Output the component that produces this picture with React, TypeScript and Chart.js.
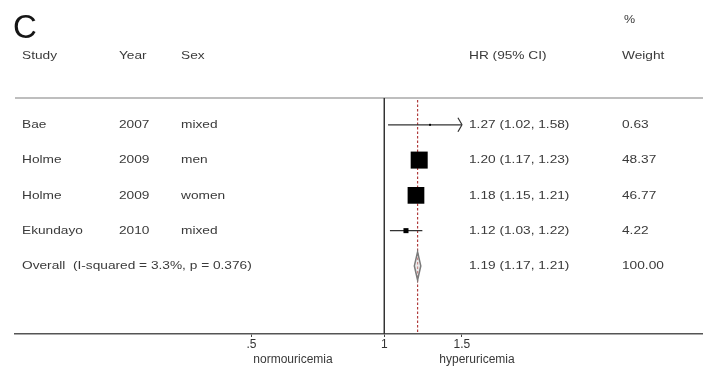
import React, { useEffect, useRef } from 'react';
import { Chart, registerables } from 'chart.js';

Chart.register(...registerables);

// ---- data ----
const studies = ['Bae', 'Holme', 'Holme', 'Ekundayo'];
const years = ['2007', '2009', '2009', '2010'];
const sexes = ['mixed', 'men', 'women', 'mixed'];
const hr = [1.27, 1.2, 1.18, 1.12];
const ciLow = [1.02, 1.17, 1.15, 1.03];
const ciHigh = [1.58, 1.23, 1.21, 1.22];
const weights = [0.63, 48.37, 46.77, 4.22];

const overallLabel = 'Overall  (I-squared = 3.3%, p = 0.376)';
const overallHR = 1.19;
const overallLow = 1.17;
const overallHigh = 1.21;
const overallWeight = 100.0;

const xTicks = [0.5, 1, 1.5];
const xTickLabels = ['.5', '1', '1.5'];
const ciDisplayMax = 1.5;

const headerLabels = ['Study', 'Year', 'Sex', 'HR (95% CI)', 'Weight'];
const weightUnit = '%';
const favourLabels = ['normouricemia', 'hyperuricemia'];
const panelLetter = 'C';

// ---- helpers ----
const rows = studies.map((_, i) => i + 1);
const overallRow = studies.length + 1;
const fmtCI = (e: number, l: number, h: number) =>
  `${e.toFixed(2)} (${l.toFixed(2)}, ${h.toFixed(2)})`;

const FONT = '"Liberation Sans", Arial, Helvetica, sans-serif';
const TEXT = '#3a3a3a';

function drawText(
  ctx: CanvasRenderingContext2D,
  s: string,
  x: number,
  y: number,
  size = 11.5,
  sx = 1.19,
  align: CanvasTextAlign = 'left',
  color = TEXT
) {
  ctx.save();
  ctx.translate(x, y);
  ctx.scale(sx, 1);
  ctx.textAlign = align;
  ctx.textBaseline = 'middle';
  ctx.fillStyle = color;
  ctx.font = `${size}px ${FONT}`;
  ctx.fillText(s, 0, 0);
  ctx.restore();
}

// column x positions (layout)
const COL_STUDY = 22;
const COL_YEAR = 119;
const COL_SEX = 181;
const COL_HR = 469;
const COL_W = 622;

const forestPlugin = {
  id: 'forest',
  beforeDatasetsDraw(chart: any) {
    const { ctx, chartArea, scales } = chart;
    const x = scales.x;
    const y = scales.y;
    ctx.save();
    // top rule
    ctx.strokeStyle = '#a8a8a8';
    ctx.lineWidth = 1.5;
    ctx.beginPath();
    ctx.moveTo(chartArea.left, chartArea.top);
    ctx.lineTo(chartArea.right, chartArea.top);
    ctx.stroke();
    // null effect line
    const x1 = x.getPixelForValue(1);
    ctx.strokeStyle = '#333';
    ctx.lineWidth = 1.5;
    ctx.beginPath();
    ctx.moveTo(x1, chartArea.top);
    ctx.lineTo(x1, chartArea.bottom);
    ctx.stroke();
    // overall dashed line
    const xo = x.getPixelForValue(overallHR);
    ctx.setLineDash([2.5, 2]);
    ctx.strokeStyle = '#b03c3c';
    ctx.lineWidth = 1.2;
    ctx.beginPath();
    ctx.moveTo(xo, chartArea.top + 2);
    ctx.lineTo(xo, chartArea.bottom);
    ctx.stroke();
    ctx.setLineDash([]);
    // overall diamond
    const yc = y.getPixelForValue(overallRow);
    const yt = y.getPixelForValue(overallRow - 0.4);
    const yb = y.getPixelForValue(overallRow + 0.4);
    const xl = x.getPixelForValue(overallLow);
    const xh = x.getPixelForValue(overallHigh);
    ctx.beginPath();
    ctx.moveTo(xl, yc);
    ctx.lineTo(xo, yt);
    ctx.lineTo(xh, yc);
    ctx.lineTo(xo, yb);
    ctx.closePath();
    ctx.fillStyle = 'rgba(215,215,215,0.5)';
    ctx.fill();
    ctx.strokeStyle = '#7a7a7a';
    ctx.lineWidth = 1.5;
    ctx.stroke();
    ctx.restore();
  },
  afterDatasetsDraw(chart: any) {
    const { ctx, scales } = chart;
    const x = scales.x;
    const y = scales.y;
    ctx.save();
    ctx.strokeStyle = '#333';
    ctx.lineWidth = 1.2;
    rows.forEach((r, i) => {
      if (ciHigh[i] > ciDisplayMax) {
        const tip = x.getPixelForValue(ciDisplayMax);
        const yr = y.getPixelForValue(r);
        ctx.beginPath();
        ctx.moveTo(tip - 4, yr - 7);
        ctx.quadraticCurveTo(tip - 1, yr - 2, tip, yr);
        ctx.quadraticCurveTo(tip - 1, yr + 2, tip - 4, yr + 7);
        ctx.stroke();
      }
    });
    ctx.restore();
  },
  afterDraw(chart: any) {
    const { ctx, scales } = chart;
    const y = scales.y;
    // panel letter
    ctx.save();
    ctx.fillStyle = '#151515';
    ctx.font = `33px ${FONT}`;
    ctx.textBaseline = 'alphabetic';
    ctx.textAlign = 'left';
    ctx.fillText(panelLetter, 13, 38);
    ctx.restore();
    // headers
    const hy = 56;
    const cols = [COL_STUDY, COL_YEAR, COL_SEX, COL_HR, COL_W];
    headerLabels.forEach((h, i) => drawText(ctx, h, cols[i], hy));
    drawText(ctx, weightUnit, COL_W + 2, 20, 10.5);
    // study rows
    rows.forEach((r, i) => {
      const yr = y.getPixelForValue(r);
      drawText(ctx, studies[i], COL_STUDY, yr);
      drawText(ctx, years[i], COL_YEAR, yr);
      drawText(ctx, sexes[i], COL_SEX, yr);
      drawText(ctx, fmtCI(hr[i], ciLow[i], ciHigh[i]), COL_HR, yr);
      drawText(ctx, weights[i].toFixed(2), COL_W, yr);
    });
    const yo = y.getPixelForValue(overallRow);
    drawText(ctx, overallLabel, COL_STUDY, yo);
    drawText(ctx, fmtCI(overallHR, overallLow, overallHigh), COL_HR, yo);
    drawText(ctx, overallWeight.toFixed(2), COL_W, yo);
    // favour labels
    drawText(ctx, favourLabels[0], 293, 360, 12, 1, 'center');
    drawText(ctx, favourLabels[1], 477, 360, 12, 1, 'center');
  },
};

export default function App() {
  const ref = useRef<HTMLCanvasElement | null>(null);

  useEffect(() => {
    if (!ref.current) return;
    const ciDatasets = rows.map((r, i) => ({
      type: 'line' as const,
      order: 2,
      data: [
        { x: ciLow[i], y: r },
        { x: Math.min(ciHigh[i], ciDisplayMax), y: r },
      ],
      borderColor: '#333',
      borderWidth: 1.2,
      pointRadius: 0,
      showLine: true,
      fill: false,
    }));
    const boxes = {
      type: 'scatter' as const,
      order: 1,
      data: rows.map((r, i) => ({ x: hr[i], y: r })),
      pointStyle: 'rect',
      pointRadius: weights.map((w) => 1.73 * Math.sqrt(w)),
      backgroundColor: '#000',
      borderColor: '#000',
      borderWidth: 0,
    };

    const chart = new Chart(ref.current, {
      type: 'scatter',
      data: { datasets: [...ciDatasets, boxes] as any },
      plugins: [forestPlugin as any],
      options: {
        animation: false,
        responsive: false,
        devicePixelRatio: 1,
        layout: { autoPadding: false, padding: { left: 15, right: 0, top: 98, bottom: 0 } },
        plugins: { legend: { display: false }, tooltip: { enabled: false } },
        scales: {
          x: {
            type: 'logarithmic',
            min: 0.1454,
            max: 5.282,
            afterBuildTicks: (scale: any) => {
              scale.ticks = xTicks.map((v) => ({ value: v }));
            },
            afterFit: (scale: any) => {
              scale.height = 34;
              scale.paddingLeft = 0;
              scale.paddingRight = 0;
            },
            ticks: {
              autoSkip: false,
              maxRotation: 0,
              padding: 0,
              color: '#333',
              font: { family: FONT, size: 12 },
              callback: (_v: any, i: number) => xTickLabels[i],
            },
            grid: {
              display: true,
              drawOnChartArea: false,
              drawTicks: true,
              tickLength: 3,
              color: '#444',
              lineWidth: 1,
            },
            border: { display: true, color: '#555', width: 1.5 },
          },
          y: {
            type: 'linear',
            min: 0.24,
            max: 6.93,
            reverse: true,
            display: false,
          },
        },
      } as any,
    });
    return () => chart.destroy();
  }, []);

  return (
    <div style={{ position: 'absolute', left: 0, top: 0, width: 703, height: 368, background: '#fff' }}>
      <canvas ref={ref} width={703} height={368} style={{ display: 'block', width: 703, height: 368 }} />
    </div>
  );
}
